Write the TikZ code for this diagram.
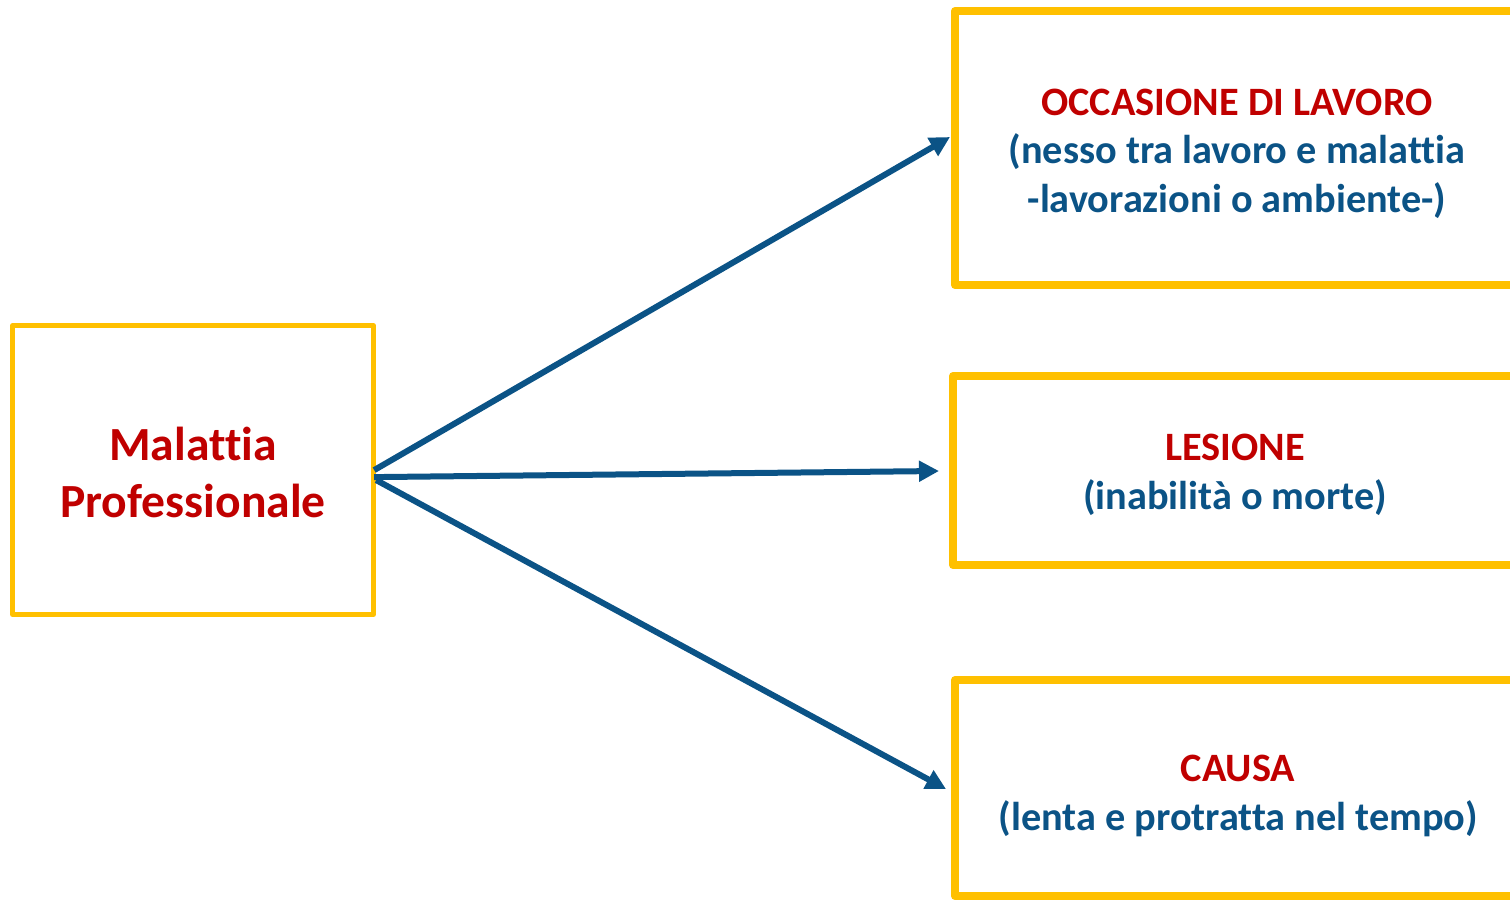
\documentclass[tikz,border=0pt]{standalone}
\usepackage{fontspec}
\setmainfont{Carlito}[Ligatures=NoCommon]
\usetikzlibrary{arrows.meta}
\definecolor{gold}{HTML}{FFC000}
\definecolor{dred}{HTML}{C00000}
\definecolor{dblue}{HTML}{0B5386}
\begin{document}
\begin{tikzpicture}[x=0.5pt,y=-0.5pt,
  ybox/.style={draw=gold, line join=round, inner sep=0pt},
  link/.style={draw=dblue, line width=3pt, -{Triangle[length=10pt,width=10pt]}},
  big/.style={font=\fontsize{23.8}{28.5}\selectfont\bfseries, text=dred, align=center, inner sep=0pt},
  ttl/.style={font=\fontsize{20.15}{24.25}\selectfont\bfseries, text=dblue, align=center, inner sep=0pt}]
\useasboundingbox (0,0) rectangle (1510,900);
\clip (0,0) rectangle (1510,900);
% boxes
\node[ybox, line width=2.5pt, minimum width=180.5pt, minimum height=144.4pt] (mp) at (193,470.1) {};
\node[ybox, line width=4pt, minimum width=287.5pt, minimum height=137pt] (occ) at (1242.5,148) {};
\node[ybox, line width=4pt, minimum width=288.5pt, minimum height=94.5pt] (les) at (1241.5,470.5) {};
\node[ybox, line width=4pt, minimum width=287.5pt, minimum height=108pt] (cau) at (1242.5,788) {};
% texts
\node[big] (tmp) at (193,472.5) {Malattia\\Professionale};
\node[ttl] (tocc) at (1237,153.5) {\textcolor{dred}{OCCASIONE DI LAVORO}\\(nesso tra lavoro e malattia\\-lavorazioni o ambiente-)};
\node[ttl] (tles) at (1235,475) {\textcolor{dred}{LESIONE}\\(inabilità o morte)};
\node[ttl] (tcau) at (1238,796) {\textcolor{dred}{CAUSA}\\(lenta e protratta nel tempo)};
% arrow ends
\coordinate (e1) at (950,137);
\coordinate (e2) at (939,471);
\coordinate (e3) at (946,789);
\draw[link] ([xshift=-0.9pt]mp.east) -- (e1);
\draw[link] ([xshift=-0.9pt,yshift=-3.5pt]mp.east) -- (e2);
\draw[link] ([xshift=0.1pt,yshift=-5pt]mp.east) -- (e3);
\end{tikzpicture}
\end{document}
